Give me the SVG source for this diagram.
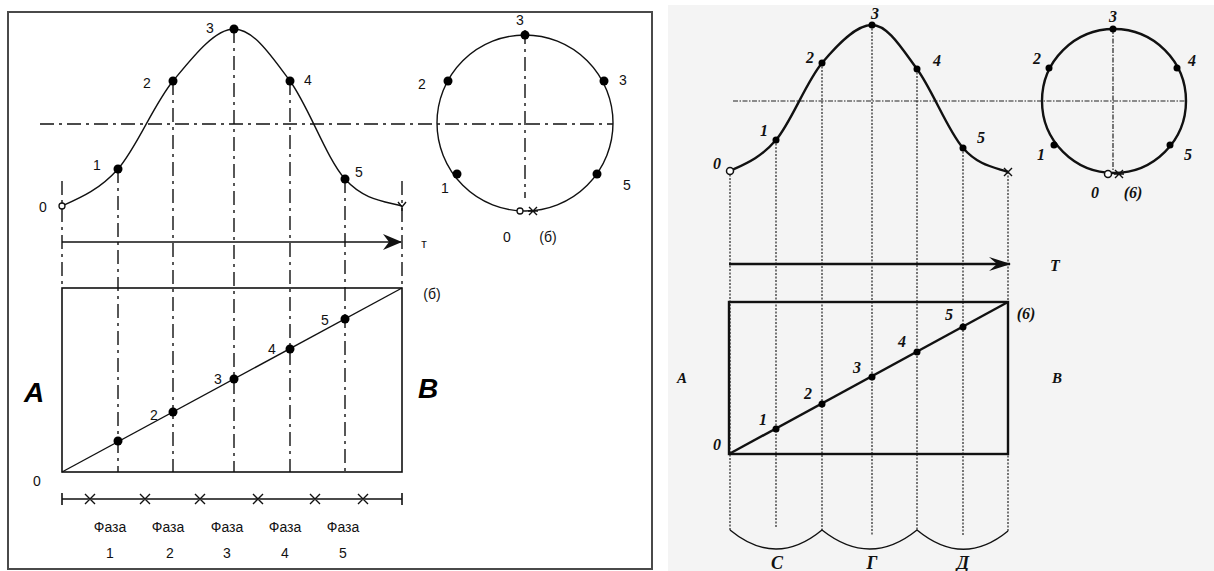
<svg xmlns="http://www.w3.org/2000/svg" width="1214" height="571" viewBox="0 0 1214 571">
<style>
.frame{fill:#fff;stroke:#4a4a4a;stroke-width:2}
.lc{fill:none;stroke:#111;stroke-width:1.4}
.ld{fill:none;stroke:#111;stroke-width:1.4;stroke-dasharray:14 5 3 5}
.ls{fill:none;stroke:#111;stroke-width:1.6}
.lt{font-family:"Liberation Sans",Arial,sans-serif;font-size:14px;fill:#111;text-anchor:middle}
.lbig{font-family:"Liberation Sans",Arial,sans-serif;font-size:28px;font-weight:bold;font-style:italic;fill:#000;text-anchor:middle}
.dot{fill:#000}
.rc{fill:none;stroke:#111;stroke-width:2.4}
.rd{fill:none;stroke:#222;stroke-width:1.2;stroke-dasharray:2 1.5}
.rdd{fill:none;stroke:#222;stroke-width:1.2;stroke-dasharray:5 1.5 1.5 1.5}
.rt{font-family:"Liberation Serif","Times New Roman",serif;font-size:16px;font-weight:bold;font-style:italic;fill:#111;text-anchor:middle}
</style>
<defs>
<marker id="arrL" viewBox="0 0 20 16" refX="19" refY="8" markerWidth="20" markerHeight="16" markerUnits="userSpaceOnUse" orient="auto">
<path d="M20,8 L1,0 L7,8 L1,16 Z" fill="#111"/>
</marker>
<marker id="arrR" viewBox="0 0 24 16" refX="23" refY="8" markerWidth="24" markerHeight="16" markerUnits="userSpaceOnUse" orient="auto">
<path d="M24,8 L2,1 L10,8 L2,15 Z" fill="#111"/>
</marker>
</defs>
<rect x="0" y="0" width="1214" height="571" fill="#fff"/>

<!-- LEFT PANEL -->
<g id="left-panel">
<rect class="frame" x="8" y="12" width="644" height="557"/>
<g id="left-connectors">
<path class="ld" d="M40,124 H613"/>
<path class="ld" d="M525,30 V198"/>
<path class="ld" d="M62,181 V288"/>
<path class="ld" d="M402,181 V288"/>
<path class="ld" d="M118,169 V472"/>
<path class="ld" d="M173,81 V472"/>
<path class="ld" d="M234,29 V472"/>
<path class="ld" d="M290,81 V472"/>
<path class="ld" d="M345,179 V472"/>
<path class="ls" d="M62,242 H401" marker-end="url(#arrL)"/>
<path class="ls" d="M62,499 H402 M62,493 V505 M402,493 V505"/>
<path class="lc" d="M85,494 l10,10 M95,494 l-10,10 M140,494 l10,10 M150,494 l-10,10 M195,494 l10,10 M205,494 l-10,10 M253,494 l10,10 M263,494 l-10,10 M310,494 l10,10 M320,494 l-10,10 M358,494 l10,10 M368,494 l-10,10"/>
</g>
<g id="left-curve">
<path class="lc" d="M62,206 C80,198 99.5,189.8 118,169 C136.5,148.2 153.7,104.3 173,81 C192.3,57.7 214.5,29 234,29 C253.5,29 271.5,56 290,81 C308.5,106 326.3,158.2 345,179 C363.7,199.8 383,201 402,206"/>
<circle cx="62" cy="206" r="3" fill="#fff" stroke="#111" stroke-width="1.3"/>
<circle class="dot" cx="118" cy="169" r="4.5"/>
<circle class="dot" cx="173" cy="81" r="4.5"/>
<circle class="dot" cx="234" cy="29" r="4.5"/>
<circle class="dot" cx="290" cy="81" r="4.5"/>
<circle class="dot" cx="345" cy="179" r="4.5"/>
<path class="lc" d="M398,202 L402,207 L406,202 M402,207 V211"/>
<text class="lt" x="43" y="212">0</text>
<text class="lt" x="97" y="170">1</text>
<text class="lt" x="147" y="88">2</text>
<text class="lt" x="210" y="33">3</text>
<text class="lt" x="308" y="85">4</text>
<text class="lt" x="359" y="177">5</text>
<text class="lt" x="424" y="248" style="font-size:12px">т</text>
</g>
<g id="left-circle">
<circle class="lc" cx="525" cy="123" r="88"/>
<circle class="dot" cx="525" cy="35" r="4.5"/>
<circle class="dot" cx="448" cy="81" r="4.5"/>
<circle class="dot" cx="604" cy="81" r="4.5"/>
<circle class="dot" cx="457" cy="174" r="4.5"/>
<circle class="dot" cx="597" cy="174" r="4.5"/>
<circle cx="520" cy="211" r="3" fill="#fff" stroke="#111" stroke-width="1.3"/>
<path class="lc" d="M529,207 L537,215 M537,207 L529,215 M528,211 H538"/>
<text class="lt" x="520" y="25">3</text>
<text class="lt" x="422" y="89">2</text>
<text class="lt" x="623" y="85">3</text>
<text class="lt" x="445" y="193">1</text>
<text class="lt" x="627" y="190">5</text>
<text class="lt" x="507" y="242">0</text>
<text class="lt" x="548" y="242">(б)</text>
</g>
<g id="left-rect">
<rect class="ls" x="62" y="288" width="340" height="184"/>
<path class="lc" d="M62,472 L402,288"/>
<circle class="dot" cx="118" cy="441" r="4.5"/>
<circle class="dot" cx="173" cy="412" r="4.5"/>
<circle class="dot" cx="234" cy="379" r="4.5"/>
<circle class="dot" cx="290" cy="349" r="4.5"/>
<circle class="dot" cx="345" cy="319" r="4.5"/>
<text class="lt" x="154" y="420">2</text>
<text class="lt" x="218" y="384">3</text>
<text class="lt" x="272" y="354">4</text>
<text class="lt" x="325" y="325">5</text>
<text class="lt" x="37" y="486">0</text>
<text class="lt" x="432" y="299">(б)</text>
<text class="lbig" x="34" y="402">A</text>
<text class="lbig" x="428" y="398">B</text>
</g>
<g id="left-phases">
<text class="lt" x="110" y="532">Фаза</text>
<text class="lt" x="168" y="532">Фаза</text>
<text class="lt" x="227" y="532">Фаза</text>
<text class="lt" x="285" y="532">Фаза</text>
<text class="lt" x="343" y="532">Фаза</text>
<text class="lt" x="110" y="558">1</text>
<text class="lt" x="170" y="558">2</text>
<text class="lt" x="227" y="558">3</text>
<text class="lt" x="285" y="558">4</text>
<text class="lt" x="343" y="558">5</text>
</g>
</g>

<!-- RIGHT PANEL -->
<g id="right-panel">
<rect x="668" y="5" width="546" height="566" fill="#f4f4f4"/>
<g id="right-connectors">
<path class="rdd" d="M733,101 H1187"/>
<path class="rdd" d="M1113,29 V171"/>
<path class="rd" d="M730,171 V530"/>
<path class="rd" d="M776,140 V528"/>
<path class="rd" d="M822,63 V530"/>
<path class="rd" d="M872,25 V535"/>
<path class="rd" d="M917,69 V530"/>
<path class="rd" d="M963,148 V535"/>
<path class="rd" d="M1008,172 V531"/>
<path class="rc" d="M729,264 H1010" stroke-width="2.2" marker-end="url(#arrR)"/>
<path class="lc" stroke-width="1.5" d="M730,530 Q776,568 822,530 Q870,568 917,530 Q963,568 1008,531"/>
</g>
<g id="right-curve">
<path class="rc" d="M730,171 C745,164 760.7,158 776,140 C791.3,122 806,82.2 822,63 C838,43.8 856.2,25 872,25 C887.8,25 901.8,48.5 917,69 C932.2,89.5 947.8,130.8 963,148 C978.2,165.2 993,167 1008,172"/>
<circle cx="730" cy="171" r="3.5" fill="#fff" stroke="#111" stroke-width="1.5"/>
<circle class="dot" cx="776" cy="140" r="3.5"/>
<circle class="dot" cx="822" cy="63" r="3.5"/>
<circle class="dot" cx="872" cy="25" r="3.5"/>
<circle class="dot" cx="917" cy="69" r="3.5"/>
<circle class="dot" cx="963" cy="148" r="3.5"/>
<path class="lc" stroke-width="1.6" d="M1004,168 L1012,176 M1012,168 L1004,176"/>
<text class="rt" x="717" y="169">0</text>
<text class="rt" x="764" y="136">1</text>
<text class="rt" x="810" y="63">2</text>
<text class="rt" x="875" y="19">3</text>
<text class="rt" x="937" y="66">4</text>
<text class="rt" x="981" y="143">5</text>
<text class="rt" x="1055" y="271">T</text>
</g>
<g id="right-circle">
<circle class="rc" cx="1114" cy="101" r="72"/>
<circle class="dot" cx="1113" cy="29" r="3.5"/>
<circle class="dot" cx="1049" cy="68" r="3.5"/>
<circle class="dot" cx="1177" cy="68" r="3.5"/>
<circle class="dot" cx="1054" cy="145" r="3.5"/>
<circle class="dot" cx="1170" cy="145" r="3.5"/>
<circle cx="1108" cy="174" r="3.5" fill="#fff" stroke="#111" stroke-width="1.5"/>
<path class="lc" stroke-width="1.6" d="M1115,170 L1123,178 M1123,170 L1115,178 M1114,174 H1124"/>
<text class="rt" x="1113" y="22">3</text>
<text class="rt" x="1037" y="64">2</text>
<text class="rt" x="1192" y="66">4</text>
<text class="rt" x="1041" y="160">1</text>
<text class="rt" x="1188" y="160">5</text>
<text class="rt" x="1095" y="198">0</text>
<text class="rt" x="1133" y="198">(6)</text>
</g>
<g id="right-rect">
<rect class="rc" x="729" y="302" width="279" height="152"/>
<path class="rc" stroke-width="2" d="M729,454 L1008,302"/>
<circle class="dot" cx="776" cy="429" r="3.5"/>
<circle class="dot" cx="822" cy="404" r="3.5"/>
<circle class="dot" cx="872" cy="377" r="3.5"/>
<circle class="dot" cx="917" cy="352" r="3.5"/>
<circle class="dot" cx="963" cy="327" r="3.5"/>
<text class="rt" x="717" y="450">0</text>
<text class="rt" x="763" y="425">1</text>
<text class="rt" x="808" y="399">2</text>
<text class="rt" x="857" y="373">3</text>
<text class="rt" x="902" y="347">4</text>
<text class="rt" x="949" y="320">5</text>
<text class="rt" x="1026" y="319">(6)</text>
<text class="rt" x="682" y="383" style="font-size:15px">А</text>
<text class="rt" x="1057" y="383" style="font-size:15px">В</text>
<text class="rt" x="777" y="569" style="font-size:18px">С</text>
<text class="rt" x="872" y="569" style="font-size:18px">Г</text>
<text class="rt" x="963" y="569" style="font-size:18px">Д</text>
</g>
</g>
</svg>
